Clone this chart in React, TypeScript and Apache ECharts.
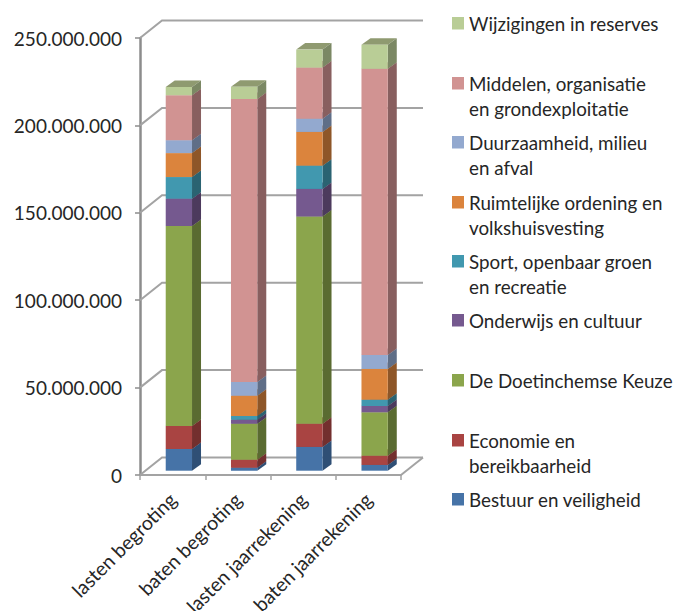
import React, { useEffect, useRef } from "react";
import * as echarts from "echarts";

const categories = ["lasten begroting", "baten begroting", "lasten jaarrekening", "baten jaarrekening"];
const yTicks = [0, 50000000, 100000000, 150000000, 200000000, 250000000];

const bestuur = [12400000, 1700000, 13600000, 3300000];
const economie = [13200000, 4600000, 13200000, 5300000];
const doetinchemse = [114400000, 20600000, 118600000, 24800000];
const onderwijs = [15600000, 2300000, 15800000, 3600000];
const sport = [12400000, 2100000, 13300000, 3600000];
const ruimtelijke = [13700000, 11600000, 19300000, 17600000];
const duurzaamheid = [7400000, 7800000, 7600000, 8000000];
const middelen = [25700000, 161900000, 29200000, 163700000];
const reserves = [4700000, 7100000, 10300000, 13800000];

const seriesDefs = [
  { name: "Bestuur en veiligheid", values: bestuur, front: "#4673a7", side: "#2f4f75", top: "#3a5f8a" },
  { name: "Economie en\nbereikbaarheid", values: economie, front: "#a94442", side: "#732f2e", top: "#8a3837" },
  { name: "De Doetinchemse Keuze", values: doetinchemse, front: "#8ba54c", side: "#5a6b31", top: "#72873f" },
  { name: "Onderwijs en cultuur", values: onderwijs, front: "#75598f", side: "#4c3a5d", top: "#604976" },
  { name: "Sport, openbaar groen\nen recreatie", values: sport, front: "#4198af", side: "#2a6372", top: "#357d90" },
  { name: "Ruimtelijke ordening en\nvolkshuisvesting", values: ruimtelijke, front: "#db843d", side: "#8e5628", top: "#b46d32" },
  { name: "Duurzaamheid, milieu\nen afval", values: duurzaamheid, front: "#93a9cf", side: "#5f6e87", top: "#798baa" },
  { name: "Middelen, organisatie\nen grondexploitatie", values: middelen, front: "#d19392", side: "#885f5f", top: "#ac7978" },
  { name: "Wijzigingen in reserves", values: reserves, front: "#b9cd96", side: "#7b8864", top: "#8f9a70" },
];

// y position (px) of each legend swatch, from bottom series to top series
const legendTops = [493, 434, 374, 314, 255, 196, 136, 77, 17];

const GRID = { left: 140, right: 273, top: 38, bottom: 136 };
const WALL_DX = 22;
const WALL_DY = 17.5;
const BAR_W = 26.3;
const BAR_LEFT = -6.9;
const BAR_DROP = 4.3;
const DEPTH_DX = 9;
const DEPTH_DY = 6.5;
const WALL_COLOR = "#a3a3a3";
const TEXT_COLOR = "#262626";
const FONT = "Lato";

export default function App() {
  const ref = useRef<HTMLDivElement>(null);

  useEffect(() => {
    const chart = echarts.init(ref.current!, undefined, { renderer: "svg" });

    const wallSeries: any = {
      type: "custom",
      silent: true,
      z: 1,
      data: yTicks.map((v) => [0, v]),
      encode: { x: 0, y: 1 },
      renderItem: (params: any, api: any) => {
        const [, y] = api.coord([0, api.value(1)]);
        const sys = params.coordSys;
        const xL = sys.x;
        const xR = sys.x + sys.width;
        const children: any[] = [
          {
            type: "polyline",
            shape: { points: [[xL, y], [xL + WALL_DX, y - WALL_DY], [xR + WALL_DX, y - WALL_DY]] },
            style: { stroke: WALL_COLOR, lineWidth: 2, fill: "none" },
          },
        ];
        if (api.value(1) === 0) {
          children.push({
            type: "line",
            shape: { x1: xR, y1: y, x2: xR + WALL_DX, y2: y - WALL_DY },
            style: { stroke: WALL_COLOR, lineWidth: 2 },
          });
        }
        return { type: "group", children };
      },
    };

    const cumulative = categories.map(() => 0);
    const barSeries: any[] = seriesDefs.map((s) => {
      const data = s.values.map((v, i) => {
        const start = cumulative[i];
        cumulative[i] += v;
        return [i, start, cumulative[i]];
      });
      return {
        type: "custom",
        name: s.name,
        silent: true,
        z: 3,
        data,
        encode: { x: 0, y: [1, 2] },
        renderItem: (_p: any, api: any) => {
          const c = api.coord([api.value(0), api.value(1)]);
          const e = api.coord([api.value(0), api.value(2)]);
          const x1 = c[0] + BAR_LEFT;
          const x2 = x1 + BAR_W;
          const yB = c[1] - BAR_DROP;
          const yT = e[1] - BAR_DROP;
          return {
            type: "group",
            children: [
              {
                type: "polygon",
                shape: { points: [[x1, yT], [x2, yT], [x2 + DEPTH_DX, yT - DEPTH_DY], [x1 + DEPTH_DX, yT - DEPTH_DY]] },
                style: { fill: s.top },
              },
              {
                type: "polygon",
                shape: { points: [[x2, yB], [x2 + DEPTH_DX, yB - DEPTH_DY], [x2 + DEPTH_DX, yT - DEPTH_DY], [x2, yT]] },
                style: { fill: s.side },
              },
              {
                type: "rect",
                shape: { x: x1, y: yT, width: BAR_W, height: yB - yT },
                style: { fill: s.front },
              },
            ],
          };
        },
      };
    });

    const legendGraphics: any[] = [];
    seriesDefs.forEach((s, i) => {
      legendGraphics.push({
        type: "rect",
        left: 452,
        top: legendTops[i],
        shape: { width: 12, height: 12.5 },
        style: { fill: s.front },
      });
      legendGraphics.push({
        type: "text",
        left: 469,
        top: legendTops[i] - 6,
        style: { text: s.name, fill: TEXT_COLOR, font: `18.8px ${FONT}`, lineHeight: 25 },
      });
    });

    chart.setOption({
      animation: false,
      grid: { ...GRID, containLabel: false, outerBoundsMode: "none" },
      xAxis: {
        type: "category",
        data: categories,
        boundaryGap: true,
        axisLine: { lineStyle: { color: WALL_COLOR, width: 2 } },
        axisTick: { show: true, alignWithLabel: false, length: 5, lineStyle: { color: WALL_COLOR, width: 1.5 } },
        axisLabel: { interval: 0, rotate: 45, margin: 21, hideOverlap: false, color: TEXT_COLOR, fontSize: 19.5, fontFamily: FONT },
      },
      yAxis: {
        type: "value",
        min: 0,
        max: 250000000,
        interval: 50000000,
        splitLine: { show: false },
        axisLine: { show: true, lineStyle: { color: "#8c8c8c", width: 2.5 } },
        axisTick: { show: true, length: 5, lineStyle: { color: "#8c8c8c", width: 1.5 } },
        axisLabel: {
          margin: 18,
          color: TEXT_COLOR,
          fontSize: 19,
          fontFamily: FONT,
          formatter: (v: number) => String(v).replace(/\B(?=(\d{3})+(?!\d))/g, "."),
        },
      },
      graphic: legendGraphics,
      series: [wallSeries, ...barSeries],
    });

    return () => chart.dispose();
  }, []);

  return <div ref={ref} style={{ position: "absolute", left: 0, top: 0, width: 674, height: 611 }} />;
}
